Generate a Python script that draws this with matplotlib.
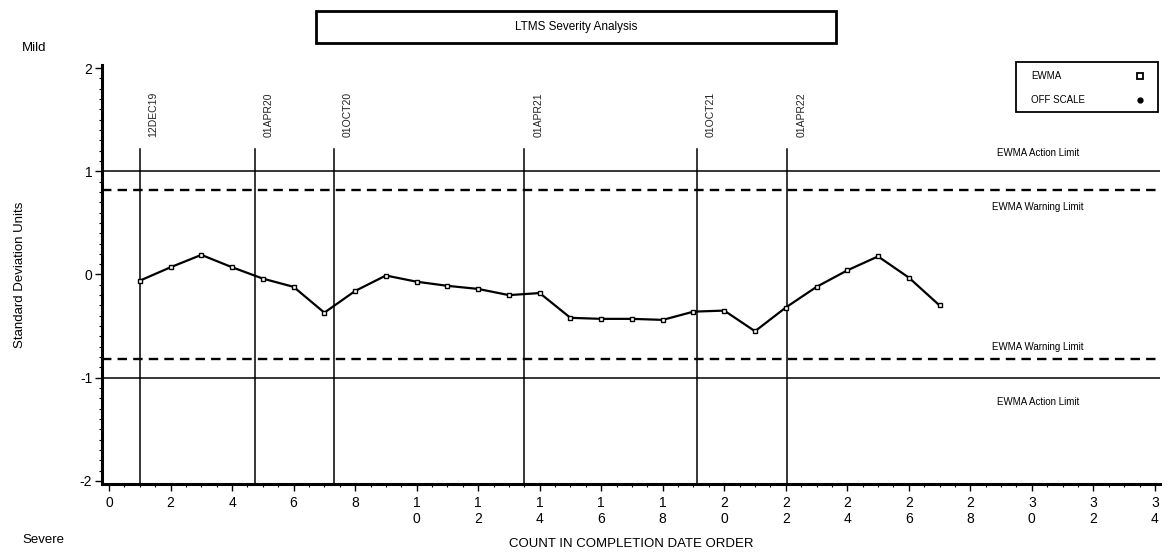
import numpy as np
import matplotlib.pyplot as plt
from matplotlib.patches import Rectangle
from matplotlib.lines import Line2D

plt.rcParams['font.family'] = ['Liberation Sans', 'DejaVu Sans']
plt.rcParams['axes.unicode_minus'] = False

# EWMA values in completion order
count = list(range(1, 28))
ewma = [-0.06, 0.07, 0.19, 0.07, -0.04, -0.12, -0.37, -0.16, -0.01, -0.07,
        -0.11, -0.14, -0.20, -0.18, -0.42, -0.43, -0.43, -0.44, -0.36, -0.35,
        -0.55, -0.32, -0.12, 0.04, 0.175, -0.03, -0.30]

# date markers
date_pos = [1.0, 4.75, 7.3, 13.5, 19.1, 22.05]
date_lbl = ['12DEC19', '01APR20', '01OCT20', '01APR21', '01OCT21', '01APR22']

action_limit = 1.0
warning_limit = 0.82

xticks = list(range(0, 35, 2))
xlabels = ['\n'.join(str(t)) for t in xticks]

fig = plt.figure(figsize=(11.68, 5.53), dpi=100)
ax = fig.add_axes([0.0873, 0.1248, 0.9057, 0.7577])

ax.set_xlim(-0.23, 34.16)
ax.set_ylim(-2.03, 2.03)

# limits
ax.axhline(action_limit, color='black', lw=1.1)
ax.axhline(-action_limit, color='black', lw=1.1)
ax.axhline(warning_limit, color='black', lw=1.7, dashes=(4, 2.6))
ax.axhline(-warning_limit, color='black', lw=1.7, dashes=(4, 2.6))

# date lines
for xp, lb in zip(date_pos, date_lbl):
    ax.plot([xp, xp], [-2.03, 1.22], color='black', lw=1.1)
    ax.text(xp + 0.45, 1.33, lb, rotation=90, fontsize=7.5, ha='center',
            va='bottom', color='#222222')

ax.plot(count, ewma, color='black', lw=1.6, marker='s', ms=3.5,
        mfc='white', mec='black', mew=1.0)

lim_x = 30.2
ax.text(lim_x, 1.18, 'EWMA Action Limit', fontsize=7, ha='center', va='center')
ax.text(lim_x, 0.65, 'EWMA Warning Limit', fontsize=7, ha='center', va='center')
ax.text(lim_x, -0.70, 'EWMA Warning Limit', fontsize=7, ha='center', va='center')
ax.text(lim_x, -1.24, 'EWMA Action Limit', fontsize=7, ha='center', va='center')

# axes style
for s in ['top', 'right']:
    ax.spines[s].set_visible(False)
ax.spines['left'].set_linewidth(2.2)
ax.spines['bottom'].set_linewidth(2.2)

ax.set_yticks([-2, -1, 0, 1, 2])
ax.set_yticks(np.arange(-2, 2.01, 0.1), minor=True)
ax.set_xticks(xticks)
ax.set_xticklabels(xlabels, linespacing=1.15)
ax.set_xticks(np.arange(0, 34.01, 0.5), minor=True)
ax.tick_params(axis='both', which='major', direction='out', length=5, width=1,
               labelsize=10)
ax.tick_params(axis='both', which='minor', direction='out', length=2.5, width=0.8)
ax.tick_params(axis='x', which='major', pad=4)
ax.tick_params(axis='y', which='major', pad=2)

ax.set_xlabel('COUNT IN COMPLETION DATE ORDER', fontsize=9.5)
ax.xaxis.set_label_coords(0.5, -0.13)
ax.set_ylabel('Standard Deviation Units', fontsize=9.5)
ax.yaxis.set_label_coords(-0.0715, 0.5)

fig.text(22 / 1168, 1 - 48 / 553, 'Mild', fontsize=9.5, va='center')
fig.text(22 / 1168, 1 - 540 / 553, 'Severe', fontsize=9.5, va='center')

# title box
fig.add_artist(Rectangle((316 / 1168, 1 - 43 / 553), 520 / 1168, 32 / 553,
                         transform=fig.transFigure, fill=False, lw=2, ec='black'))
fig.text(576 / 1168, 1 - 27 / 553, 'LTMS Severity Analysis', fontsize=8.5,
         ha='center', va='center')

# legend box
fig.add_artist(Rectangle((1016 / 1168, 1 - 112 / 553), 142 / 1168, 50 / 553,
                         transform=fig.transFigure, fill=False, lw=1.3, ec='black'))
fig.text(1031 / 1168, 1 - 76 / 553, 'EWMA', fontsize=7, va='center')
fig.text(1031 / 1168, 1 - 100 / 553, 'OFF SCALE', fontsize=7, va='center')
fig.add_artist(Line2D([1140 / 1168], [1 - 76 / 553], marker='s', ms=5,
                      mfc='white', mec='black', mew=1.3, transform=fig.transFigure))
fig.add_artist(Line2D([1140 / 1168], [1 - 100 / 553], marker='o', ms=3.5,
                      color='black', transform=fig.transFigure))

fig.savefig('out.png', dpi=100)
